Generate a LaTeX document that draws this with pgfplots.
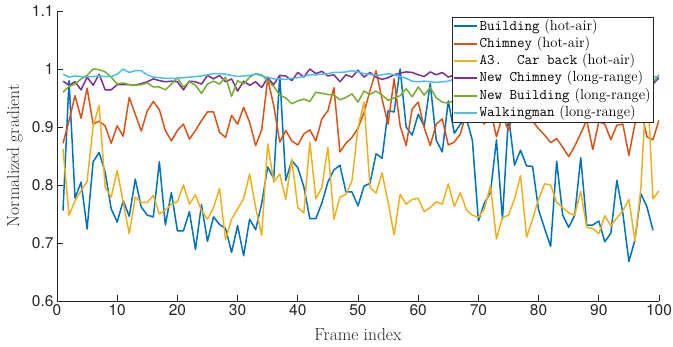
\documentclass[border=0pt]{standalone}
\usepackage{fontspec}
\usepackage{pgfplots}
\pgfplotsset{compat=1.18}
\newfontfamily\tickfont{TeX Gyre Heros}
\definecolor{c1}{rgb}{0,0.447,0.741}
\definecolor{c2}{rgb}{0.85,0.325,0.098}
\definecolor{c3}{rgb}{0.929,0.694,0.125}
\definecolor{c4}{rgb}{0.494,0.184,0.556}
\definecolor{c5}{rgb}{0.466,0.674,0.188}
\definecolor{c6}{rgb}{0.301,0.745,0.933}
\definecolor{axgray}{rgb}{0.15,0.15,0.15}
\begin{document}
\begin{tikzpicture}
\begin{axis}[
  width=602pt, height=290pt, scale only axis,
  xmin=0, xmax=100, ymin=0.6, ymax=1.1,
  xtick={0,10,...,100}, ytick={0.6,0.7,0.8,0.9,1,1.1},
  axis x line*=bottom, axis y line*=left,
  tick align=inside, major tick length=6pt,
  axis line style={draw=axgray, line width=0.7pt},
  tick style={draw=axgray, line width=0.7pt},
  ticklabel style={font=\tickfont\fontsize{15.5}{18}\selectfont, text=axgray},
  /pgf/number format/assume math mode=true,
  xlabel={Frame index}, ylabel={Normalized gradient},
  label style={font=\fontsize{17.5}{20}\selectfont, text=axgray},
  xlabel style={at={(axis description cs:0.5,-0.1345)}, anchor=base},
  ylabel style={at={(axis description cs:-0.0631,0.5)}, anchor=base},
  legend style={at={(rel axis cs:0.990,0.979)}, anchor=north east,
    draw=axgray, fill=white,
    font=\fontsize{14.6}{17}\selectfont, inner sep=0.5pt,
    nodes={inner sep=1.5pt, text height=10.8pt, text depth=3.5pt}},
  legend cell align=left,
  legend image code/.code={\draw[#1] (0pt,0pt) -- (23pt,0pt);},
  legend image post style={line width=1.9pt},
  every axis plot/.append style={line width=1.5pt, line join=round},
]
\addplot[c1] coordinates {
(1,0.756)(2,0.980)(3,0.777)(4,0.805)(5,0.724)(6,0.840)(7,0.856)(8,0.822)(9,0.759)(10,0.736)
(11,0.773)(12,0.746)(13,0.810)(14,0.762)(15,0.748)(16,0.745)(17,0.840)(18,0.731)(19,0.787)(20,0.721)
(21,0.721)(22,0.754)(23,0.689)(24,0.766)(25,0.703)(26,0.745)(27,0.732)(28,0.725)(29,0.684)(30,0.730)
(31,0.678)(32,0.741)(33,0.723)(34,0.768)(35,0.831)(36,0.811)(37,0.989)(38,0.808)(39,0.842)(40,0.830)
(41,0.797)(42,0.742)(43,0.742)(44,0.769)(45,0.805)(46,0.826)(47,0.834)(48,0.788)(49,0.788)(50,0.764)
(51,0.798)(52,0.803)(53,0.854)(54,0.846)(55,0.928)(56,0.926)(57,1.000)(58,0.900)(59,0.886)(60,0.922)
(61,0.901)(62,0.975)(63,0.877)(64,0.857)(65,0.945)(66,0.889)(67,0.905)(68,0.915)(69,0.877)(70,0.738)
(71,0.769)(72,0.787)(73,0.878)(74,0.741)(75,0.920)(76,0.834)(77,0.860)(78,0.833)(79,0.832)(80,0.757)
(81,0.725)(82,0.694)(83,0.841)(84,0.748)(85,0.727)(86,0.748)(87,0.847)(88,0.731)(89,0.731)(90,0.738)
(91,0.702)(92,0.717)(93,0.808)(94,0.751)(95,0.668)(96,0.705)(97,0.785)(98,0.762)(99,0.722)
};
\addlegendentry{\texttt{Building} (hot-air)}
\addplot[c2] coordinates {
(1,0.872)(2,0.911)(3,0.954)(4,0.915)(5,0.967)(6,0.905)(7,0.910)(8,0.902)(9,0.872)(10,0.902)
(11,0.884)(12,0.951)(13,0.922)(14,0.893)(15,0.928)(16,0.944)(17,0.930)(18,0.894)(19,0.876)(20,0.894)
(21,0.905)(22,0.879)(23,0.894)(24,0.911)(25,0.926)(26,0.926)(27,0.891)(28,0.882)(29,0.920)(30,0.905)
(31,0.934)(32,0.908)(33,0.868)(34,0.895)(35,0.983)(36,0.937)(37,0.874)(38,0.894)(39,0.876)(40,0.869)
(41,0.888)(42,0.895)(43,0.876)(44,0.914)(45,0.928)(46,0.968)(47,0.857)(48,0.872)(49,0.882)(50,0.898)
(51,0.925)(52,0.963)(53,0.997)(54,0.948)(55,0.905)(56,0.983)(57,0.902)(58,0.868)(59,0.931)(60,0.943)
(61,0.899)(62,0.868)(63,0.905)(64,0.914)(65,0.869)(66,0.874)(67,0.888)(68,0.925)(69,0.950)(70,0.920)
(71,0.905)(72,0.930)(73,0.883)(74,0.920)(75,0.894)(76,0.930)(77,0.940)(78,0.930)(79,0.910)(80,0.897)
(81,0.886)(82,0.873)(83,0.880)(84,0.865)(85,0.849)(86,0.867)(87,0.889)(88,0.912)(89,0.861)(90,0.909)
(91,0.905)(92,0.878)(93,0.903)(94,0.905)(95,0.851)(96,0.906)(97,0.930)(98,0.883)(99,0.878)(100,0.912)
};
\addlegendentry{\texttt{Chimney} (hot-air)}
\addplot[c3] coordinates {
(1,0.862)(2,0.748)(3,0.773)(4,0.790)(5,0.806)(6,0.902)(7,0.937)(8,0.796)(9,0.779)(10,0.825)
(11,0.770)(12,0.716)(13,0.779)(14,0.770)(15,0.770)(16,0.782)(17,0.750)(18,0.757)(19,0.767)(20,0.771)
(21,0.800)(22,0.767)(23,0.783)(24,0.756)(25,0.741)(26,0.761)(27,0.794)(28,0.706)(29,0.741)(30,0.759)
(31,0.776)(32,0.819)(33,0.761)(34,0.713)(35,0.871)(36,0.805)(37,0.819)(38,0.775)(39,0.845)(40,0.761)
(41,0.752)(42,0.874)(43,0.776)(44,0.796)(45,0.865)(46,0.741)(47,0.779)(48,0.784)(49,0.807)(50,0.899)
(51,0.943)(52,0.796)(53,0.786)(54,0.821)(55,0.770)(56,0.714)(57,0.784)(58,0.767)(59,0.775)(60,0.777)
(61,0.754)(62,0.761)(63,0.771)(64,0.767)(65,0.802)(66,0.763)(67,0.787)(68,0.757)(69,0.748)(70,0.744)
(71,0.759)(72,0.799)(73,0.707)(74,0.744)(75,0.748)(76,0.776)(77,0.816)(78,0.710)(79,0.741)(80,0.776)
(81,0.802)(82,0.800)(83,0.770)(84,0.761)(85,0.752)(86,0.748)(87,0.789)(88,0.727)(89,0.725)(90,0.716)
(91,0.747)(92,0.730)(93,0.743)(94,0.756)(95,0.775)(96,0.704)(97,0.796)(98,0.990)(99,0.776)(100,0.790)
};
\addlegendentry{\texttt{A3.\ \ Car back} (hot-air)}
\addplot[c4] coordinates {
(1,0.979)(2,0.972)(3,0.978)(4,0.964)(5,0.986)(6,0.972)(7,0.991)(8,0.964)(9,0.964)(10,0.973)
(11,0.973)(12,0.973)(13,0.972)(14,0.975)(15,0.978)(16,0.983)(17,0.980)(18,0.978)(19,0.979)(20,0.978)
(21,0.964)(22,0.979)(23,0.978)(24,0.974)(25,0.989)(26,0.983)(27,0.989)(28,0.978)(29,0.983)(30,0.962)
(31,0.979)(32,0.972)(33,0.978)(34,0.968)(35,0.985)(36,0.973)(37,0.989)(38,0.988)(39,0.980)(40,0.994)
(41,0.986)(42,1.000)(43,0.992)(44,0.996)(45,0.988)(46,0.990)(47,0.978)(48,0.990)(49,0.986)(50,0.998)
(51,0.986)(52,0.994)(53,0.986)(54,0.982)(55,0.985)(56,0.990)(57,0.993)(58,0.995)(59,0.994)(60,0.990)
(61,0.987)(62,0.995)(63,0.990)(64,0.994)(65,0.986)(66,0.990)(67,0.988)(68,0.985)(69,0.992)(70,0.980)
(71,0.990)(72,0.986)(73,0.994)(74,0.984)(75,0.990)(76,0.982)(77,0.988)(78,0.993)(79,0.985)(80,0.990)
(81,0.980)(82,0.987)(83,0.992)(84,0.984)(85,0.989)(86,0.978)(87,0.986)(88,0.991)(89,0.983)(90,0.988)
(91,0.980)(92,0.986)(93,0.992)(94,0.984)(95,0.978)(96,0.986)(97,0.982)(98,0.976)(99,0.974)(100,0.985)
};
\addlegendentry{\texttt{New Chimney} (long-range)}
\addplot[c5] coordinates {
(1,0.960)(2,0.970)(3,0.974)(4,0.983)(5,0.989)(6,1.000)(7,0.999)(8,0.995)(9,0.986)(10,0.974)
(11,0.976)(12,0.973)(13,0.972)(14,0.973)(15,0.976)(16,0.969)(17,0.969)(18,0.964)(19,0.974)(20,0.985)
(21,0.969)(22,0.978)(23,0.972)(24,0.958)(25,0.974)(26,0.979)(27,0.974)(28,0.986)(29,0.953)(30,0.980)
(31,0.974)(32,0.986)(33,0.992)(34,0.990)(35,0.980)(36,0.970)(37,0.955)(38,0.950)(39,0.940)(40,0.945)
(41,0.948)(42,0.944)(43,0.960)(44,0.958)(45,0.956)(46,0.955)(47,0.947)(48,0.951)(49,0.957)(50,0.943)
(51,0.962)(52,0.956)(53,0.962)(54,0.955)(55,0.946)(56,0.950)(57,0.954)(58,0.966)(59,0.952)(60,0.969)
(61,0.955)(62,0.968)(63,0.950)(64,0.943)(65,0.941)(66,0.946)(67,0.948)(68,0.952)(69,0.960)(70,0.955)
(71,0.963)(72,0.958)(73,0.950)(74,0.962)(75,0.956)(76,0.965)(77,0.958)(78,0.950)(79,0.960)(80,0.966)
(81,0.957)(82,0.962)(83,0.955)(84,0.964)(85,0.958)(86,0.952)(87,0.961)(88,0.967)(89,0.958)(90,0.963)
(91,0.970)(92,0.960)(93,0.966)(94,0.958)(95,0.964)(96,0.970)(97,0.962)(98,0.968)(99,0.977)(100,0.990)
};
\addlegendentry{\texttt{New Building} (long-range)}
\addplot[c6] coordinates {
(1,0.991)(2,0.986)(3,0.988)(4,0.987)(5,0.987)(6,0.987)(7,0.988)(8,0.987)(9,0.987)(10,0.991)
(11,1.000)(12,0.994)(13,0.997)(14,0.997)(15,0.990)(16,0.986)(17,0.985)(18,0.984)(19,0.984)(20,0.984)
(21,0.985)(22,0.986)(23,0.987)(24,0.988)(25,0.990)(26,0.992)(27,0.992)(28,0.991)(29,0.989)(30,0.987)
(31,0.988)(32,0.989)(33,0.991)(34,0.988)(35,0.986)(36,0.983)(37,0.983)(38,0.982)(39,0.984)(40,0.985)
(41,0.987)(42,0.990)(43,0.990)(44,0.991)(45,0.992)(46,0.994)(47,0.994)(48,0.995)(49,0.997)(50,0.995)
(51,0.992)(52,0.991)(53,0.989)(54,0.990)(55,0.992)(56,0.990)(57,0.987)(58,0.984)(59,0.979)(60,0.978)
(61,0.979)(62,0.978)(63,0.977)(64,0.978)(65,0.979)(66,0.983)(67,0.985)(68,0.986)(69,0.987)(70,0.988)
(71,0.988)(72,0.987)(73,0.986)(74,0.985)(75,0.986)(76,0.987)(77,0.988)(78,0.989)(79,0.988)(80,0.987)
(81,0.986)(82,0.986)(83,0.987)(84,0.988)(85,0.989)(86,0.989)(87,0.988)(88,0.987)(89,0.986)(90,0.986)
(91,0.987)(92,0.988)(93,0.988)(94,0.987)(95,0.986)(96,0.985)(97,0.985)(98,0.986)(99,0.986)(100,0.987)
};
\addlegendentry{\texttt{Walkingman} (long-range)}
\end{axis}
\pgfresetboundingbox
\path[use as bounding box] (current axis.south west) ++(-57pt,-46pt) rectangle ++(673pt,347pt);
\end{tikzpicture}
\end{document}
